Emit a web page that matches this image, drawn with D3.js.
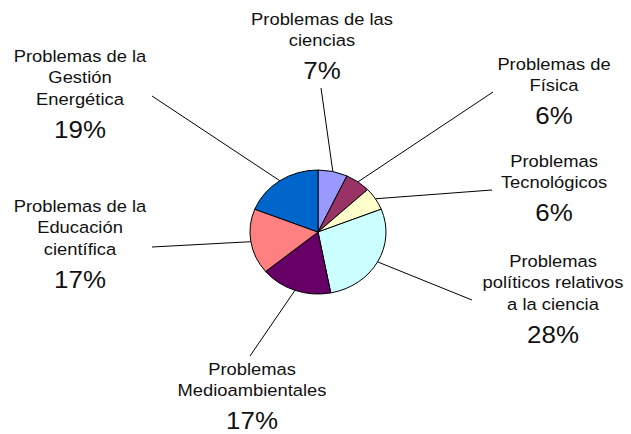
<!DOCTYPE html>
<html>
<head>
<meta charset="utf-8">
<title>Problemas</title>
<script src="https://d3js.org/d3.v7.min.js"></script>
<style>
  body { margin: 0; background: #fff; }
  #chart text { font-family: "Liberation Sans", Arial, sans-serif; fill: #111; }
  #chart .pct { font-size: 24px; }
  #chart .lbl { font-size: 17px; }
</style>
</head>
<body>
<svg id="chart"></svg>
<script>
// data
var categories = [
  "Problemas de las ciencias",
  "Problemas de Física",
  "Problemas Tecnológicos",
  "Problemas políticos relativos a la ciencia",
  "Problemas Medioambientales",
  "Problemas de la Educación científica",
  "Problemas de la Gestión Energética"
];
var values = [7, 6, 6, 28, 17, 17, 19];
var labelLines = [
  ["Problemas de las", "ciencias"],
  ["Problemas de", "Física"],
  ["Problemas", "Tecnológicos"],
  ["Problemas", "políticos relativos", "a la ciencia"],
  ["Problemas", "Medioambientales"],
  ["Problemas de la", "Educación", "científica"],
  ["Problemas de la", "Gestión", "Energética"]
];
var colors = ["#9999ff", "#993366", "#ffffcc", "#ccffff", "#660066", "#ff8080", "#0066cc"];

// layout: label block centre x, first baseline y, leader end point
var labelPos = [
  {x: 322, y: 25, lx: 321, ly: 88},
  {x: 554, y: 70, lx: 493, ly: 92},
  {x: 554, y: 167, lx: 492, ly: 190},
  {x: 553, y: 267, lx: 472, ly: 300},
  {x: 252, y: 375, lx: 250, ly: 356},
  {x: 80, y: 212, lx: 152, ly: 247},
  {x: 80, y: 62, lx: 152, ly: 96}
];

var width = 631, height = 434;
var cx = 318, cy = 232, r = 62, sx = 68 / 62;

var svg = d3.select("#chart")
  .attr("width", width)
  .attr("height", height);

var pie = d3.pie().sort(null).value(function (d) { return d; });
var arcs = pie(values);
var arc = d3.arc().innerRadius(0).outerRadius(r);

// leader lines
svg.append("g").selectAll("line")
  .data(arcs)
  .enter()
  .append("line")
  .attr("x1", function (d) { var a = (d.startAngle + d.endAngle) / 2; return cx + Math.sin(a) * r * sx; })
  .attr("y1", function (d) { var a = (d.startAngle + d.endAngle) / 2; return cy - Math.cos(a) * r; })
  .attr("x2", function (d, i) { return labelPos[i].lx; })
  .attr("y2", function (d, i) { return labelPos[i].ly; })
  .attr("stroke", "#000")
  .attr("stroke-width", 1);

var g = svg.append("g")
  .attr("transform", "translate(" + cx + "," + cy + ") scale(" + sx + ",1)");

g.selectAll("path")
  .data(arcs)
  .enter()
  .append("path")
  .attr("d", arc)
  .attr("fill", function (d, i) { return colors[i]; })
  .attr("stroke", "#000")
  .attr("stroke-width", 1)
  .attr("vector-effect", "non-scaling-stroke");

// labels
var lab = svg.append("g").selectAll("g")
  .data(arcs)
  .enter()
  .append("g")
  .attr("transform", function (d, i) { return "translate(" + labelPos[i].x + "," + labelPos[i].y + ") scale(1.08,1)"; });

lab.each(function (d, i) {
  var el = d3.select(this);
  var lines = labelLines[i];
  lines.forEach(function (t, j) {
    el.append("text")
      .attr("class", "lbl")
      .attr("text-anchor", "middle")
      .attr("y", j * 21.5)
      .text(t);
  });
  el.append("text")
    .attr("class", "pct")
    .attr("text-anchor", "middle")
    .attr("y", (lines.length - 1) * 21.5 + 33)
    .text(values[i] + "%");
});
</script>
</body>
</html>
